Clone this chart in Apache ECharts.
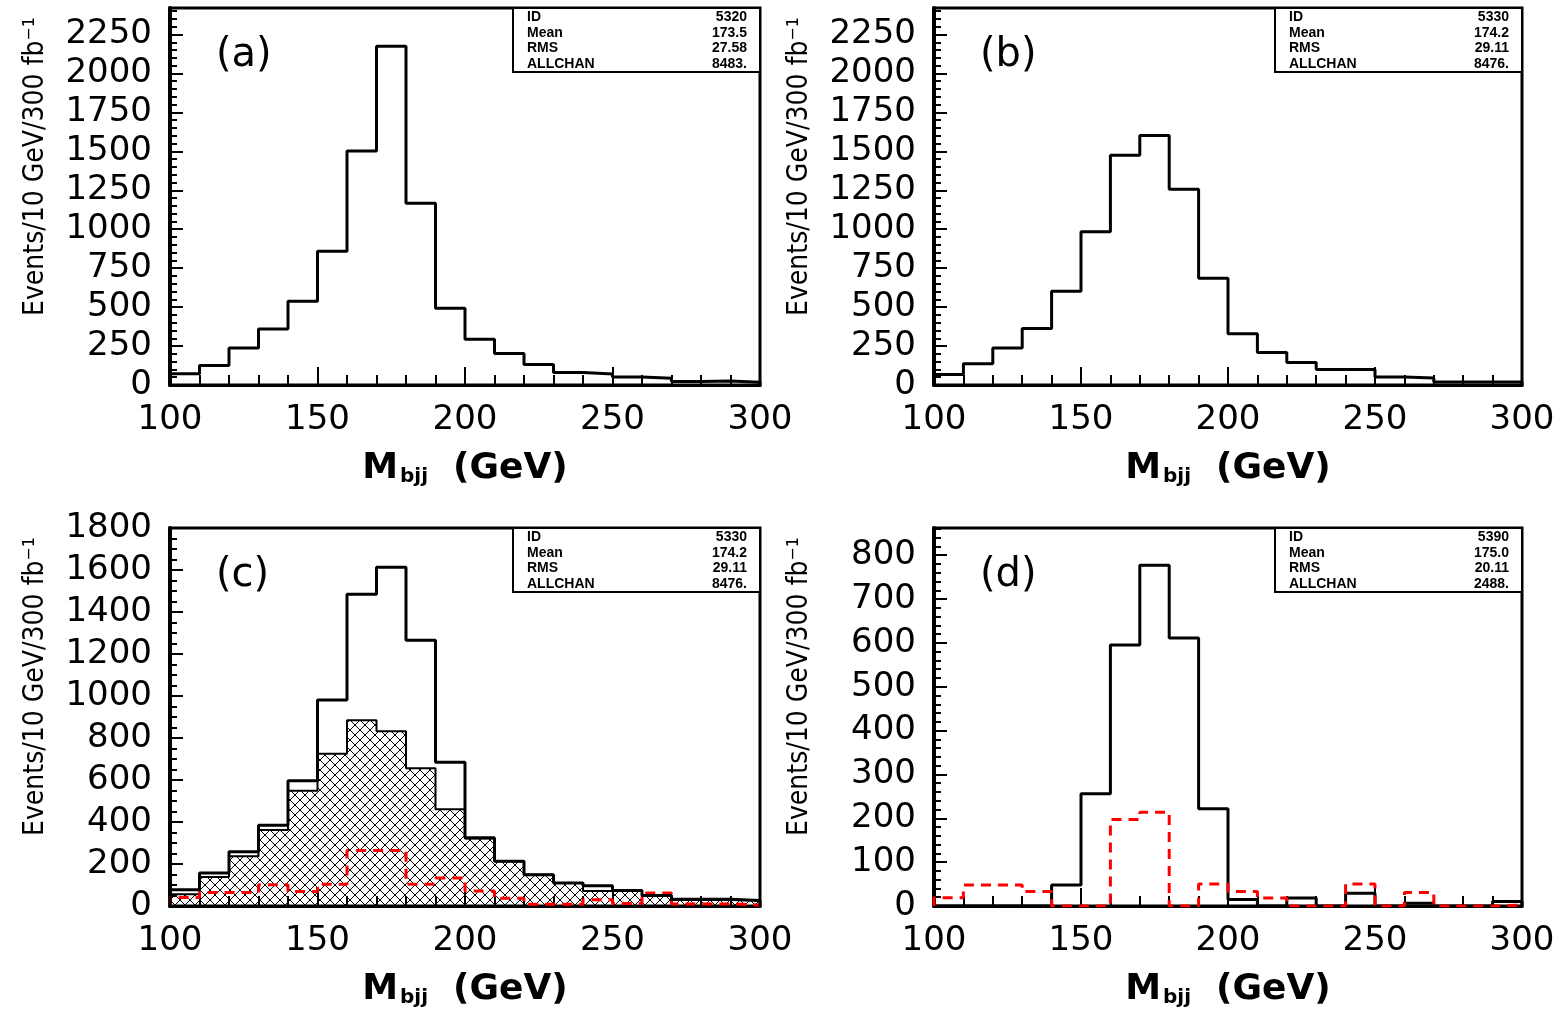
<!DOCTYPE html>
<html>
<head>
<meta charset="utf-8">
<title>M_bjj distributions</title>
<script src="https://cdn.jsdelivr.net/npm/echarts@6/dist/echarts.min.js"></script>
<style>
  html, body { margin: 0; padding: 0; background: #fff; }
  #chart { width: 1564px; height: 1010px; }
</style>
</head>
<body>
<div id="chart"></div>
<script>
// bin lower edges (GeV), last edge closes the histogram
const binLow = [100, 110, 120, 130, 140, 150, 160, 170, 180, 190, 200, 210, 220, 230, 240, 250, 260, 270, 280, 290]
const binTop = 300
const xTicks = [100, 150, 200, 250, 300]

// (a) ID 5320
const aTotal = [72, 125, 238, 360, 538, 858, 1502, 2174, 1166, 492, 294, 203, 132, 81, 70, 51, 43, 22, 26, 18]
// (b) ID 5330
const bTotal = [68, 137, 237, 363, 602, 983, 1475, 1602, 1257, 685, 329, 209, 145, 100, 100, 51, 45, 19, 19, 19]
// (c) ID 5330 + hatched component + red dashed component
const cTotal = [77, 157, 258, 384, 597, 981, 1485, 1613, 1266, 685, 325, 213, 149, 109, 96, 74, 50, 32, 32, 26]
const cHatched = [56, 138, 237, 362, 549, 725, 885, 832, 656, 461, 322, 213, 149, 109, 72, 74, 50, 29, 29, 26]
const cRed = [40, 64, 64, 101, 69, 104, 264, 264, 104, 133, 72, 37, 8, 8, 30, 12, 62, 10, 10, 5]
// (d) ID 5390
const dTotal = [0, 0, 0, 0, 48, 256, 595, 777, 611, 222, 15, 0, 18, 0, 29, 0, 6, 0, 0, 10]
const dRed = [19, 48, 48, 33, 0, 0, 197, 214, 0, 50, 33, 18, 0, 0, 50, 0, 31, 0, 0, 2]

// stat boxes
const statNames = ['ID', 'Mean', 'RMS', 'ALLCHAN']
const statA = ['5320', '173.5', '27.58', '8483.']
const statB = ['5330', '174.2', '29.11', '8476.']
const statC = ['5330', '174.2', '29.11', '8476.']
const statD = ['5390', '175.0', '20.11', '2488.']

const panelLabels = ['(a)', '(b)', '(c)', '(d)']
const yMax = [2420, 2420, 1800, 862]
const yStep = [250, 250, 200, 100]
const yMinorSplit = [5, 5, 4, 5]

const FONT = 'DejaVu Sans'

// 直方图阶梯数据
const steps = vals => {
  const pts = [[binLow[0], 0]]
  vals.forEach((v, i) => pts.push([binLow[i], v]))
  pts.push([binTop, vals[vals.length - 1]])
  pts.push([binTop, 0])
  return pts
}

// cross hatch pattern
const hatch = document.createElement('canvas')
hatch.width = 10
hatch.height = 10
const hctx = hatch.getContext('2d')
hctx.strokeStyle = '#000'
hctx.lineWidth = 1
hctx.beginPath()
hctx.moveTo(0, 0); hctx.lineTo(10, 10)
hctx.moveTo(0, 10); hctx.lineTo(10, 0)
hctx.stroke()
hctx.fillStyle = '#000'
hctx.fillRect(4, 4, 2, 2)

const grids = [
  { left: 170, top: 8, width: 590, height: 377 },
  { left: 934, top: 8, width: 588, height: 377 },
  { left: 170, top: 528, width: 590, height: 378 },
  { left: 934, top: 528, width: 588, height: 378 }
]

const xAxes = grids.map((g, i) => ({
  gridIndex: i,
  type: 'value',
  min: xTicks[0],
  max: xTicks[xTicks.length - 1],
  interval: 50,
  axisLine: { lineStyle: { color: '#000', width: 3 } },
  axisTick: { inside: true, length: 18, lineStyle: { color: '#000', width: 2 } },
  minorTick: { show: true, splitNumber: 5, length: 10, lineStyle: { color: '#000', width: 2 } },
  splitLine: { show: false },
  axisLabel: { color: '#000', fontSize: 34, fontFamily: FONT, margin: 18 },
  name: '{m|M}{s|bjj}{g|  (GeV)}',
  nameLocation: 'middle',
  nameGap: 66,
  nameTextStyle: {
    rich: {
      m: { fontSize: 36, fontWeight: 'bold', fontFamily: FONT, color: '#000' },
      s: { fontSize: 20, fontWeight: 'bold', fontFamily: FONT, color: '#000', padding: [16, 0, 0, 2] },
      g: { fontSize: 36, fontWeight: 'bold', fontFamily: FONT, color: '#000' }
    }
  }
}))

const yAxes = grids.map((g, i) => ({
  gridIndex: i,
  type: 'value',
  min: 0,
  max: yMax[i],
  interval: yStep[i],
  axisLine: { show: true, lineStyle: { color: '#000', width: 4 } },
  axisTick: { inside: true, length: 13, lineStyle: { color: '#000', width: 2 } },
  minorTick: { show: true, splitNumber: yMinorSplit[i], length: 7, lineStyle: { color: '#000', width: 2 } },
  splitLine: { show: false },
  axisLabel: {
    color: '#000', fontSize: 34, fontFamily: FONT, margin: 18,
    formatter: v => (v % yStep[i] === 0 ? String(v) : '')
  }
}))

const histLine = (idx, vals, style, extra) => Object.assign({
  type: 'line',
  xAxisIndex: idx,
  yAxisIndex: idx,
  step: 'end',
  symbol: 'none',
  data: steps(vals),
  lineStyle: style,
  z: 3
}, extra || {})

const series = [
  histLine(0, aTotal, { color: '#000', width: 3 }),
  histLine(1, bTotal, { color: '#000', width: 3 }),
  histLine(2, cHatched, { color: '#000', width: 2 }, {
    areaStyle: { color: { image: hatch, repeat: 'repeat' }, opacity: 1 },
    z: 2
  }),
  histLine(2, cRed, { color: '#ff0000', width: 3, type: [10, 7] }, { z: 4 }),
  histLine(2, cTotal, { color: '#000', width: 3 }, { z: 5 }),
  histLine(3, dTotal, { color: '#000', width: 3 }),
  histLine(3, dRed, { color: '#ff0000', width: 3, type: [10, 7] }, { z: 4 })
]

// 标注: 面板字母, 纵轴标题, 统计框
const graphic = []
const stats = [statA, statB, statC, statD]
grids.forEach((g, i) => {
  graphic.push({
    type: 'text',
    x: g.left + 46,
    y: g.top + 48,
    style: { text: panelLabels[i], font: '40px "' + FONT + '"', fill: '#000', align: 'left', verticalAlign: 'middle' },
    z: 10
  })
  graphic.push({
    type: 'text',
    x: g.left - 134,
    y: g.top + 308,
    rotation: Math.PI / 2,
    style: { text: 'Events/10 GeV/300 fb⁻¹', font: '28px "DejaVu Sans Condensed", "' + FONT + '"', fill: '#000', align: 'left', verticalAlign: 'middle' },
    z: 10
  })
  const bx = g.left + g.width - 247
  const by = g.top
  graphic.push({
    type: 'rect',
    shape: { x: bx, y: by, width: 247, height: 64 },
    style: { fill: '#fff', stroke: '#000', lineWidth: 2 },
    z: 9
  })
  statNames.forEach((n, r) => {
    const ty = by + 9 + r * 15.7
    graphic.push({
      type: 'text', x: bx + 14, y: ty, z: 10,
      style: { text: n, font: 'bold 14px "Liberation Sans"', fill: '#000', align: 'left', verticalAlign: 'middle' }
    })
    graphic.push({
      type: 'text', x: bx + 234, y: ty, z: 10,
      style: { text: stats[i][r], font: 'bold 14px "Liberation Sans"', fill: '#000', align: 'right', verticalAlign: 'middle' }
    })
  })
})

const chart = echarts.init(document.getElementById('chart'))
chart.setOption({
  animation: false,
  backgroundColor: '#fff',
  grid: grids.map(g => Object.assign({ show: true, borderColor: '#000', borderWidth: 3, backgroundColor: 'transparent' }, g)),
  xAxis: xAxes,
  yAxis: yAxes,
  series,
  graphic
})
</script>
</body>
</html>
